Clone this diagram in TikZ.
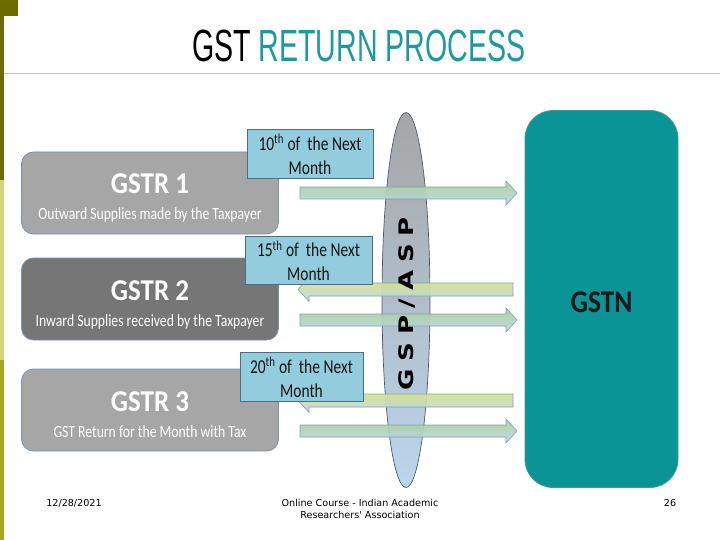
\documentclass[tikz,border=0pt]{standalone}
\usepackage{fontspec}
\usepackage{graphicx}
\setmainfont{Carlito}
\newfontfamily\titlefont{Liberation Sans}
\newfontfamily\footfont{DejaVu Sans}
\usetikzlibrary{shapes.geometric}
\definecolor{grayA}{HTML}{A6A6A6}
\definecolor{grayB}{HTML}{767676}
\definecolor{boxedge}{HTML}{7A93B5}
\definecolor{calloutfill}{HTML}{93CDDD}
\definecolor{calloutedge}{HTML}{4A6E8A}
\definecolor{calltext}{HTML}{141414}
\definecolor{gstnfill}{HTML}{0A9496}
\definecolor{gstnedge}{HTML}{3AA08C}
\definecolor{arrowgreen}{HTML}{A9D08E}
\definecolor{arrowyellow}{HTML}{DCE570}
\definecolor{arrowblue}{HTML}{BDD7EE}
\definecolor{arrowedge}{HTML}{7C9AB5}
\definecolor{ellTop}{HTML}{A5A5A5}
\definecolor{ellBot}{HTML}{BCD6EE}
\definecolor{ellEdge}{HTML}{4D5D70}
\definecolor{titleteal}{HTML}{1E9A9C}
\definecolor{ruleGray}{HTML}{C0C0C0}
\definecolor{oliveDark}{HTML}{6B6B00}
\definecolor{oliveLight}{HTML}{D4D47A}
\definecolor{oliveMid}{HTML}{A6A623}
\newcommand{\gstTall}[2]{\scalebox{1}[#1]{#2}}
\newcommand{\gstCall}[1]{\raisebox{-3.5pt}[\height][\depth]{\gstTall{1.27}{\begin{tabular}{@{}c@{}}#1\end{tabular}}}}
\newcommand{\gstRightArrow}[2]{\draw[#1] (300,{#2-6}) -- (506,{#2-6}) -- (506,{#2-12}) -- (517,#2) -- (506,{#2+12}) -- (506,{#2+6}) -- (300,{#2+6}) -- cycle;}
\newcommand{\gstLeftArrow}[2]{\draw[#1] (513,{#2-6.5}) -- (309,{#2-6.5}) -- (309,{#2-12}) -- (298,#2) -- (309,{#2+12}) -- (309,{#2+6.5}) -- (513,{#2+6.5}) -- cycle;}
\begin{document}
\begin{tikzpicture}[x=1pt,y=-1pt,
  gstrbox/.style={draw=boxedge, rounded corners=12pt, minimum width=257pt, minimum height=82pt, inner sep=0pt, line width=0.8pt},
  gstrtitle/.style={anchor=base, text=white, inner sep=0pt, font=\bfseries\fontsize{27}{27}\selectfont},
  gstrsub/.style={anchor=base, text=white, inner sep=0pt, font=\fontsize{13.7}{14}\selectfont},
  callout/.style={draw=calloutedge, fill=calloutfill, inner sep=0pt, align=center, text=calltext, line width=0.8pt, font=\fontsize{15.5}{19}\selectfont},
  greenarrow/.style={draw=arrowedge, top color=arrowgreen, bottom color=arrowblue, line width=0.6pt, opacity=0.92},
  yellowarrow/.style={draw=arrowedge, top color=arrowyellow, bottom color=arrowblue, line width=0.6pt, opacity=0.92},
  foot/.style={anchor=base, inner sep=0pt, font=\footfont\fontsize{9.6}{12}\selectfont}]
\useasboundingbox (0,0) rectangle (720,540);
\fill[white] (0,0) rectangle (720,540);
% left decoration bar
\fill[oliveDark] (0,0) rectangle (18,16);
\fill[oliveDark] (0,16) rectangle (4,180);
\fill[oliveLight] (0,180) rectangle (4,360);
\fill[oliveMid] (0,360) rectangle (4,540);
% title and rule
\node[anchor=base west, inner sep=0pt] (title) at (192,62)
  {\resizebox{333pt}{31.5pt}{\titlefont GST \textcolor{titleteal}{RETURN PROCESS}}};
\coordinate (ruleL) at (4,73);
\coordinate (ruleR) at (720,73);
\draw[ruleGray, line width=0.8pt] (ruleL) -- (ruleR);
% GSTN
\node[draw=gstnedge, fill=gstnfill, rounded corners=28pt, minimum width=153pt, minimum height=377pt, inner sep=0pt, line width=0.8pt] (gstn) at (601.5,299) {};
\node[anchor=base, inner sep=0pt, text=black!90, font=\bfseries\fontsize{27.5}{28}\selectfont] (gstnt) at (601.5,312) {\gstTall{1.15}{GSTN}};
% GSP/ASP ellipse
\node[ellipse, draw=ellEdge, top color=ellTop, bottom color=ellBot, minimum width=48pt, minimum height=375pt, inner sep=0pt, line width=0.7pt] (gsp) at (406,300) {};
% arrows
\gstRightArrow{greenarrow}{193}
\gstLeftArrow{yellowarrow}{289.5}
\gstRightArrow{greenarrow}{320}
\gstLeftArrow{yellowarrow}{400.5}
\gstRightArrow{greenarrow}{431}
\node[rotate=90, anchor=base, inner sep=0pt, font=\footfont\bfseries\fontsize{20}{20}\selectfont] (gspt) at (413,304)
  {\scalebox{1.3}[1]{G\hspace{6pt}S\hspace{6pt}P\hspace{6pt}/\hspace{6pt}A\hspace{6pt}S\hspace{6pt}P}};
% GSTR boxes
\node[gstrbox, fill=grayA] (g1) at (150,193) {};
\node[gstrtitle] (g1t) at (150,194) {\gstTall{1.12}{GSTR 1}};
\node[gstrsub] (g1s) at (150,220) {\gstTall{1.25}{Outward Supplies made by the Taxpayer}};
\node[gstrbox, fill=grayB] (g2) at (150,299) {};
\node[gstrtitle] (g2t) at (150,300) {\gstTall{1.12}{GSTR 2}};
\node[gstrsub] (g2s) at (150,326) {\gstTall{1.25}{Inward Supplies received by the Taxpayer}};
\node[gstrbox, fill=grayA] (g3) at (150,410) {};
\node[gstrtitle] (g3t) at (150,411) {\gstTall{1.12}{GSTR 3}};
\node[gstrsub] (g3s) at (150,437) {\gstTall{1.25}{GST Return for the Month with Tax}};
% callouts
\node[callout, minimum width=126pt, minimum height=44pt] (c1) at (310,154) {\gstCall{10\textsuperscript{th} of~ the Next\\Month}};
\node[callout, minimum width=127pt, minimum height=45pt] (c2) at (308.5,260.5) {\gstCall{15\textsuperscript{th} of~ the Next\\Month}};
\node[callout, minimum width=123pt, minimum height=46pt] (c3) at (301.5,377) {\gstCall{20\textsuperscript{th} of~ the Next\\Month}};
% footer
\node[foot] (date) at (74,506) {12/28/2021};
\node[foot] (course1) at (360,506) {Online Course - Indian Academic};
\node[foot] (course2) at (360,518) {Researchers' Association};
\node[foot] (page) at (670,506) {26};
\end{tikzpicture}
\end{document}
